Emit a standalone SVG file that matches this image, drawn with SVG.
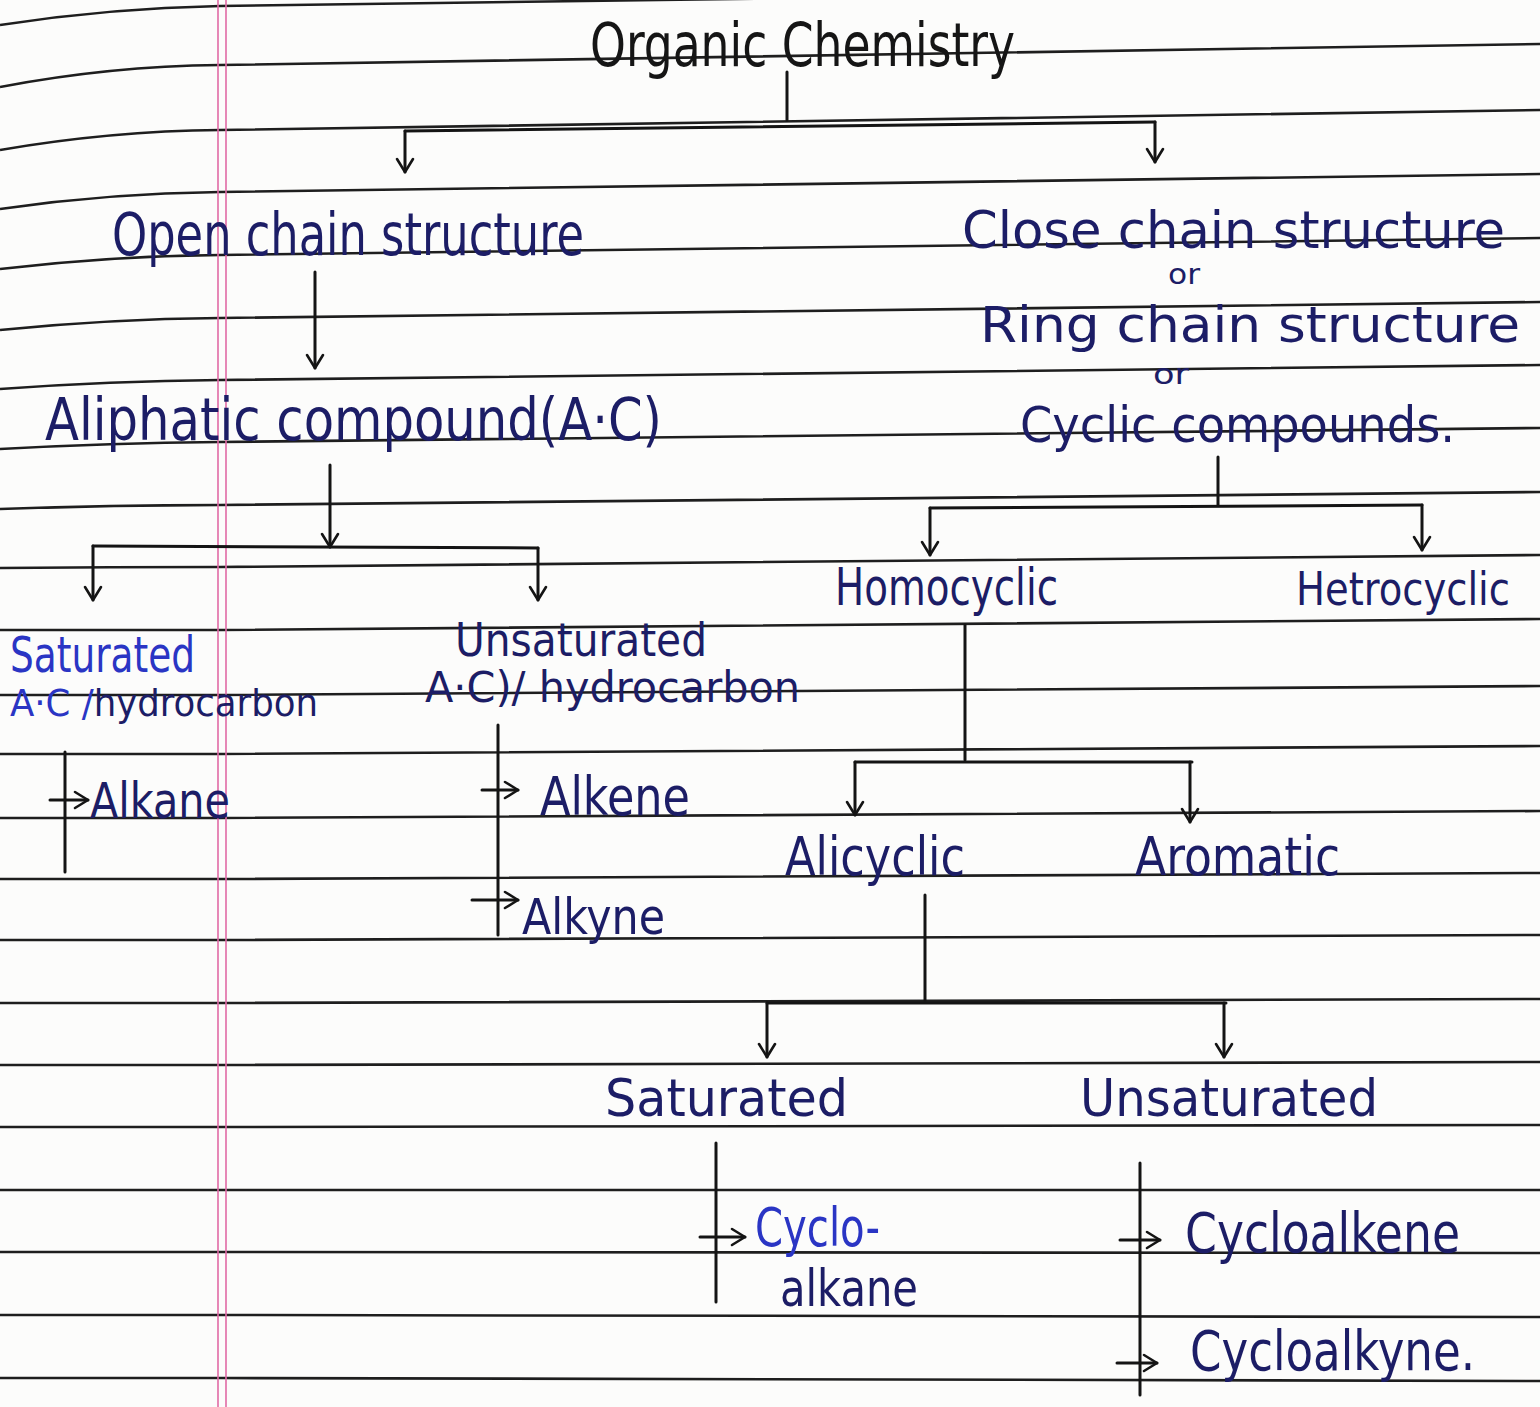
<svg xmlns="http://www.w3.org/2000/svg" width="1540" height="1407" viewBox="0 0 1540 1407">
<defs>
<style>
.rule{fill:none;stroke:#1e1e1e;stroke-width:2.6}
.margin{stroke:#e06aa6;stroke-width:1.6}
.ink{fill:#1c1d66;font-family:"Liberation Sans Narrow","DejaVu Sans Condensed","Liberation Sans",sans-serif}
.blk{fill:#151515;font-family:"Liberation Sans Narrow","DejaVu Sans Condensed","Liberation Sans",sans-serif}
.blue{fill:#2a35c4;font-family:"Liberation Sans Narrow","DejaVu Sans Condensed","Liberation Sans",sans-serif}
.con{fill:none;stroke:#141414;stroke-width:3;stroke-linecap:round}
.arr{fill:none;stroke:#141414;stroke-width:3;stroke-linecap:round;marker-end:url(#ah)}
</style>
<marker id="ah" viewBox="-16 -10 18 20" refX="0" refY="0" markerWidth="18" markerHeight="20" markerUnits="userSpaceOnUse" orient="auto">
<path d="M0,0 L-13,-8 M0,0 L-13,8" fill="none" stroke="#141414" stroke-width="2.6" stroke-linecap="round"/>
</marker>
</defs>
<rect width="1540" height="1407" fill="#fcfcfb"/>
<g id="paper">
<path class="rule" d="M0,25 Q110,8 220,6 L1540,-12"/>
<path class="rule" d="M0,87 Q110,66 220,65 L1540,44"/>
<path class="rule" d="M0,150 Q110,131 220,130 L1540,110"/>
<path class="rule" d="M0,209 Q110,193 220,192 L1540,174"/>
<path class="rule" d="M0,269 Q110,256 220,255 L1540,238"/>
<path class="rule" d="M0,330 Q110,319 220,318 L1540,302"/>
<path class="rule" d="M0,389 Q110,381 220,380 L1540,365"/>
<path class="rule" d="M0,449 Q110,443 220,442 L1540,428"/>
<path class="rule" d="M0,509 Q110,505 220,505 L1540,492"/>
<path class="rule" d="M0,568 Q110,567 220,567 L1540,555"/>
<path class="rule" d="M0,630 L220,630 L1540,619"/>
<path class="rule" d="M0,695 L220,695 L1540,686"/>
<path class="rule" d="M0,754 L220,754 L1540,746"/>
<path class="rule" d="M0,818 L220,818 L1540,811"/>
<path class="rule" d="M0,879 L220,879 L1540,873"/>
<path class="rule" d="M0,940 L220,940 L1540,935"/>
<path class="rule" d="M0,1003 L220,1003 L1540,999"/>
<path class="rule" d="M0,1065 L220,1065 L1540,1062"/>
<path class="rule" d="M0,1127 L220,1127 L1540,1125"/>
<path class="rule" d="M0,1190 L220,1190 L1540,1190"/>
<path class="rule" d="M0,1252 L220,1252 L1540,1253"/>
<path class="rule" d="M0,1315 L220,1315 L1540,1317"/>
<path class="rule" d="M0,1378 L220,1378 L1540,1381"/>
<line class="margin" x1="218" y1="0" x2="218" y2="1407"/>
<line class="margin" x1="226" y1="0" x2="226" y2="1407"/>
</g>
<g id="connectors">
<line class="con" x1="787" y1="72" x2="787" y2="120"/>
<path class="con" d="M405,131 L1155,122"/>
<line class="arr" x1="405" y1="131" x2="405" y2="172"/>
<line class="arr" x1="1155" y1="122" x2="1155" y2="162"/>
<line class="arr" x1="315" y1="272" x2="315" y2="368"/>
<line class="arr" x1="330" y1="465" x2="330" y2="547"/>
<path class="con" d="M93,546 L538,548"/>
<line class="arr" x1="93" y1="546" x2="93" y2="600"/>
<line class="arr" x1="538" y1="548" x2="538" y2="600"/>
<line class="con" x1="65" y1="752" x2="65" y2="872"/>
<line class="arr" x1="50" y1="800" x2="88" y2="800"/>
<line class="con" x1="498" y1="725" x2="498" y2="935"/>
<line class="arr" x1="482" y1="790" x2="518" y2="790"/>
<line class="arr" x1="472" y1="900" x2="518" y2="900"/>
<line class="con" x1="1218" y1="457" x2="1218" y2="505"/>
<path class="con" d="M930,508 L1422,505"/>
<line class="arr" x1="930" y1="508" x2="930" y2="555"/>
<line class="arr" x1="1422" y1="505" x2="1422" y2="550"/>
<line class="con" x1="965" y1="625" x2="965" y2="760"/>
<path class="con" d="M855,762 L1192,762"/>
<line class="arr" x1="855" y1="762" x2="855" y2="815"/>
<line class="arr" x1="1190" y1="762" x2="1190" y2="822"/>
<line class="con" x1="925" y1="895" x2="925" y2="1000"/>
<path class="con" d="M767,1003 L1226,1003"/>
<line class="arr" x1="767" y1="1003" x2="767" y2="1057"/>
<line class="arr" x1="1224" y1="1003" x2="1224" y2="1057"/>
<line class="con" x1="716" y1="1143" x2="716" y2="1302"/>
<line class="arr" x1="700" y1="1237" x2="745" y2="1237"/>
<line class="con" x1="1140" y1="1163" x2="1140" y2="1395"/>
<line class="arr" x1="1120" y1="1240" x2="1160" y2="1240"/>
<line class="arr" x1="1117" y1="1363" x2="1157" y2="1363"/>
</g>
<g id="organic-chemistry"><text class="blk" x="590" y="66" font-size="60" textLength="425" lengthAdjust="spacingAndGlyphs">Organic Chemistry</text></g>
<g id="open-chain"><text class="ink" x="112" y="255" font-size="58" textLength="472" lengthAdjust="spacingAndGlyphs">Open chain structure</text></g>
<g id="aliphatic"><text class="ink" x="45" y="440" font-size="58" textLength="617" lengthAdjust="spacingAndGlyphs">Aliphatic compound(A·C)</text></g>
<g id="saturated-ac">
<text class="blue" x="10" y="672" font-size="50" textLength="185" lengthAdjust="spacingAndGlyphs">Saturated</text>
<text class="ink" x="10" y="716" font-size="38" textLength="308" lengthAdjust="spacingAndGlyphs"><tspan class="blue">A·C /</tspan>hydrocarbon</text>
</g>
<g id="alkane"><text class="ink" x="90" y="818" font-size="50" textLength="140" lengthAdjust="spacingAndGlyphs">Alkane</text></g>
<g id="unsaturated-ac">
<text class="ink" x="455" y="656" font-size="46" textLength="252" lengthAdjust="spacingAndGlyphs">Unsaturated</text>
<text class="ink" x="425" y="702" font-size="42" textLength="375" lengthAdjust="spacingAndGlyphs">A·C)/ hydrocarbon</text>
</g>
<g id="alkene"><text class="ink" x="540" y="815" font-size="54" textLength="150" lengthAdjust="spacingAndGlyphs">Alkene</text></g>
<g id="alkyne"><text class="ink" x="522" y="934" font-size="50" textLength="143" lengthAdjust="spacingAndGlyphs">Alkyne</text></g>
<g id="close-chain">
<text class="ink" x="962" y="248" font-size="52" textLength="543" lengthAdjust="spacingAndGlyphs">Close  chain structure</text>
<text class="ink" x="1168" y="284" font-size="28" textLength="32" lengthAdjust="spacingAndGlyphs">or</text>
<text class="ink" x="980" y="342" font-size="50" textLength="540" lengthAdjust="spacingAndGlyphs">Ring chain structure</text>
<text class="ink" x="1153" y="384" font-size="28" textLength="36" lengthAdjust="spacingAndGlyphs">or</text>
<text class="ink" x="1020" y="442" font-size="50" textLength="435" lengthAdjust="spacingAndGlyphs">Cyclic compounds.</text>
</g>
<g id="homocyclic"><text class="ink" x="835" y="605" font-size="52" textLength="223" lengthAdjust="spacingAndGlyphs">Homocyclic</text></g>
<g id="hetrocyclic"><text class="ink" x="1296" y="605" font-size="46" textLength="214" lengthAdjust="spacingAndGlyphs">Hetrocyclic</text></g>
<g id="alicyclic"><text class="ink" x="785" y="875" font-size="54" textLength="180" lengthAdjust="spacingAndGlyphs">Alicyclic</text></g>
<g id="aromatic"><text class="ink" x="1135" y="875" font-size="54" textLength="205" lengthAdjust="spacingAndGlyphs">Aromatic</text></g>
<g id="saturated-cyclic"><text class="ink" x="605" y="1116" font-size="52" textLength="243" lengthAdjust="spacingAndGlyphs">Saturated</text></g>
<g id="unsaturated-cyclic"><text class="ink" x="1080" y="1116" font-size="52" textLength="298" lengthAdjust="spacingAndGlyphs">Unsaturated</text></g>
<g id="cycloalkane">
<text class="blue" x="755" y="1246" font-size="54" textLength="125" lengthAdjust="spacingAndGlyphs">Cyclo-</text>
<text class="ink" x="780" y="1306" font-size="52" textLength="138" lengthAdjust="spacingAndGlyphs">alkane</text>
</g>
<g id="cycloalkene"><text class="ink" x="1185" y="1252" font-size="56" textLength="275" lengthAdjust="spacingAndGlyphs">Cycloalkene</text></g>
<g id="cycloalkyne"><text class="ink" x="1190" y="1370" font-size="56" textLength="285" lengthAdjust="spacingAndGlyphs">Cycloalkyne.</text></g>
</svg>
